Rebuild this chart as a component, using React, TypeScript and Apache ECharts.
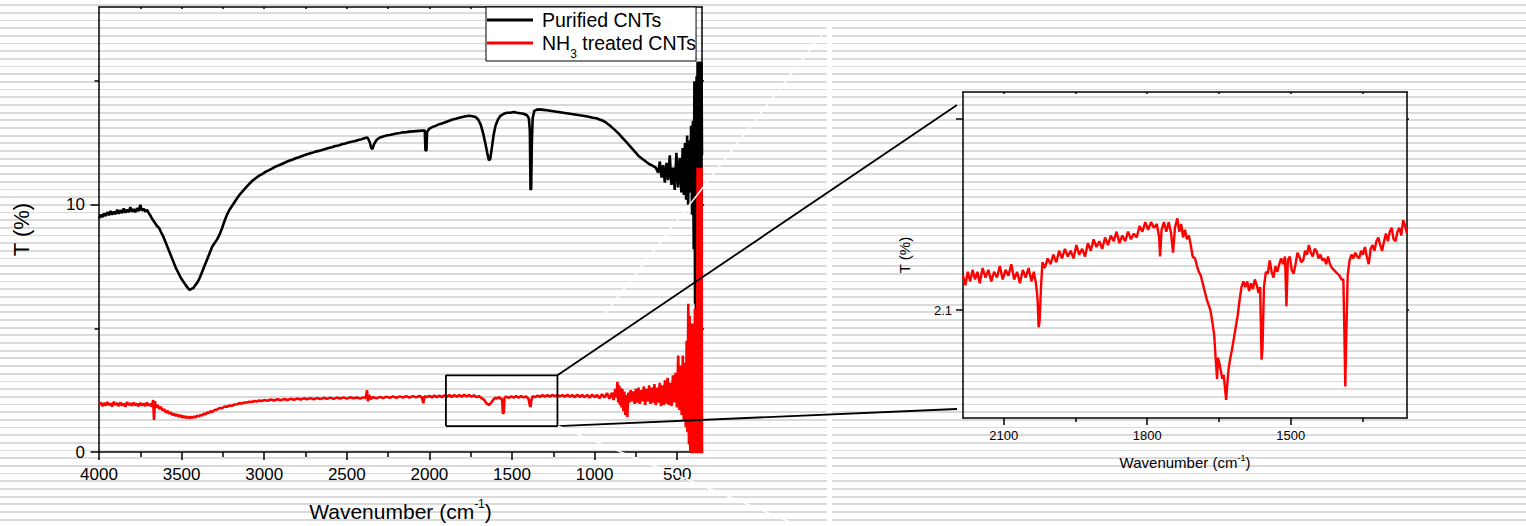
import React, { useEffect, useRef } from 'react';
import * as echarts from 'echarts';

// ---------- data ----------
// Purified CNTs : [wavenumber (cm-1), T (%)]
const purified: number[][] = [
  [4000, 9.45], [3990, 9.6], [3980, 9.5], [3970, 9.65], [3960, 9.55], [3950, 9.7], [3940, 9.58], [3930, 9.75],
  [3920, 9.6], [3910, 9.72], [3900, 9.62], [3890, 9.8], [3880, 9.64], [3870, 9.78], [3860, 9.66], [3850, 9.85],
  [3840, 9.68], [3830, 9.8], [3820, 9.7], [3810, 9.9], [3800, 9.72], [3790, 9.82], [3780, 9.7], [3770, 9.86],
  [3760, 9.74], [3750, 10.0], [3740, 9.76], [3730, 9.84], [3720, 9.72], [3710, 9.8], [3700, 9.68], [3690, 9.58],
  [3680, 9.45], [3665, 9.3], [3650, 9.15], [3635, 9.05], [3625, 8.9], [3610, 8.7], [3595, 8.45], [3580, 8.2],
  [3565, 7.95], [3550, 7.7], [3535, 7.45], [3520, 7.25], [3505, 7.05], [3490, 6.9], [3475, 6.75], [3460, 6.62],
  [3450, 6.55], [3440, 6.6], [3430, 6.62], [3420, 6.72], [3405, 6.85], [3390, 7.05], [3375, 7.3], [3360, 7.55],
  [3345, 7.8], [3330, 8.05], [3315, 8.3], [3300, 8.45], [3285, 8.6], [3270, 8.8], [3255, 9.05], [3240, 9.35],
  [3225, 9.6], [3210, 9.8], [3195, 9.95], [3180, 10.1], [3165, 10.25], [3150, 10.4], [3130, 10.55], [3110, 10.7],
  [3090, 10.85], [3070, 10.98], [3050, 11.08], [3030, 11.18], [3010, 11.25], [2990, 11.34], [2970, 11.4],
  [2950, 11.47], [2930, 11.55], [2910, 11.6], [2890, 11.66], [2870, 11.72], [2850, 11.78], [2830, 11.82],
  [2810, 11.88], [2790, 11.92], [2770, 11.97], [2750, 12.02], [2730, 12.06], [2710, 12.1], [2690, 12.15],
  [2670, 12.18], [2650, 12.22], [2630, 12.26], [2610, 12.3], [2590, 12.33], [2570, 12.38], [2550, 12.4],
  [2530, 12.45], [2510, 12.48], [2490, 12.52], [2470, 12.55], [2450, 12.58], [2430, 12.62], [2410, 12.65],
  [2390, 12.7], [2375, 12.72], [2362, 12.55], [2352, 12.3], [2345, 12.25], [2335, 12.45], [2320, 12.62],
  [2300, 12.72], [2280, 12.76], [2260, 12.8], [2240, 12.82], [2220, 12.85], [2200, 12.88], [2180, 12.9],
  [2160, 12.93], [2140, 12.94], [2120, 12.96], [2100, 12.97], [2080, 12.98], [2060, 12.99], [2040, 13.0],
  [2028, 13.0], [2024, 12.2], [2018, 12.2], [2014, 12.95], [2000, 13.08], [1980, 13.15], [1960, 13.2],
  [1940, 13.26], [1920, 13.3], [1900, 13.35], [1880, 13.4], [1860, 13.45], [1840, 13.48], [1820, 13.52],
  [1800, 13.55], [1780, 13.58], [1760, 13.6], [1740, 13.58], [1720, 13.55], [1705, 13.45], [1690, 13.25],
  [1675, 12.9], [1662, 12.5], [1650, 12.1], [1640, 11.8], [1632, 11.85], [1622, 12.3], [1612, 12.8],
  [1600, 13.2], [1585, 13.45], [1570, 13.6], [1550, 13.68], [1530, 13.72], [1510, 13.72], [1490, 13.75],
  [1470, 13.72], [1450, 13.7], [1430, 13.68], [1410, 13.62], [1398, 13.5], [1392, 13.0], [1388, 10.6],
  [1384, 10.65], [1380, 12.5], [1375, 13.5], [1365, 13.8], [1350, 13.85], [1330, 13.86], [1310, 13.84],
  [1290, 13.82], [1270, 13.8], [1250, 13.78], [1230, 13.76], [1210, 13.74], [1190, 13.72], [1170, 13.7],
  [1150, 13.68], [1130, 13.66], [1110, 13.64], [1090, 13.62], [1070, 13.6], [1050, 13.58], [1030, 13.55],
  [1010, 13.52], [990, 13.5], [970, 13.45], [950, 13.4], [930, 13.32], [910, 13.22], [890, 13.1],
  [870, 12.98], [850, 12.85], [830, 12.7], [810, 12.55], [790, 12.4], [770, 12.25], [750, 12.1],
  [730, 11.95], [710, 11.85], [690, 11.75], [670, 11.65], [650, 11.58], [630, 11.5], [615, 11.3],
  [605, 11.75], [595, 11.1], [585, 11.6], [575, 10.9], [565, 11.7], [555, 11.0], [545, 12.0], [535, 10.8],
  [525, 11.5], [515, 10.6], [505, 12.1], [495, 10.7], [485, 11.9], [475, 10.5], [467, 12.3], [460, 10.4],
  [453, 12.5], [446, 10.2], [440, 12.8], [434, 10.0], [428, 12.6], [422, 10.5], [416, 13.2], [410, 9.6],
  [405, 13.4], [400, 8.2], [396, 15.0], [392, 6.0], [389, 14.8], [386, 5.0], [383, 15.2], [380, 6.5],
  [377, 15.8], [374, 7.0], [371, 15.8], [368, 8.0], [365, 15.8], [362, 9.0], [359, 15.8], [356, 10.0],
  [353, 15.8], [350, 12.0],
];

// NH3 treated CNTs : [wavenumber (cm-1), T (%)]
const nh3Treated: number[][] = [
  [4000, 1.92], [3990, 2.0], [3980, 1.86], [3970, 1.98], [3960, 1.88], [3950, 2.02], [3940, 1.9], [3930, 1.97],
  [3920, 1.85], [3910, 2.03], [3900, 1.9], [3890, 1.98], [3880, 1.86], [3870, 2.0], [3860, 1.88], [3850, 1.96],
  [3840, 1.84], [3830, 2.02], [3820, 1.9], [3810, 1.97], [3800, 1.87], [3790, 2.0], [3780, 1.89], [3770, 1.95],
  [3760, 1.85], [3750, 1.99], [3740, 1.88], [3730, 1.96], [3720, 1.86], [3710, 2.0], [3700, 1.88], [3690, 1.94],
  [3680, 1.84], [3672, 2.1], [3667, 1.3], [3662, 2.05], [3655, 1.8], [3645, 1.9], [3635, 1.75], [3625, 1.82],
  [3615, 1.68], [3605, 1.72], [3595, 1.6], [3585, 1.66], [3575, 1.55], [3565, 1.6], [3555, 1.5], [3545, 1.55],
  [3535, 1.46], [3525, 1.52], [3515, 1.43], [3505, 1.48], [3495, 1.4], [3485, 1.45], [3475, 1.38], [3465, 1.43],
  [3455, 1.37], [3445, 1.42], [3435, 1.38], [3425, 1.44], [3415, 1.4], [3405, 1.47], [3395, 1.44], [3385, 1.5],
  [3375, 1.48], [3365, 1.55], [3355, 1.52], [3345, 1.6], [3335, 1.58], [3325, 1.65], [3315, 1.62], [3300, 1.7],
  [3285, 1.72], [3270, 1.78], [3255, 1.77], [3240, 1.84], [3225, 1.83], [3210, 1.88], [3195, 1.87], [3180, 1.92],
  [3165, 1.93], [3150, 1.97], [3135, 1.96], [3120, 2.0], [3105, 2.0], [3090, 2.03], [3075, 2.02], [3060, 2.06],
  [3045, 2.04], [3030, 2.08], [3015, 2.06], [3000, 2.1], [2980, 2.07], [2960, 2.12], [2940, 2.08], [2920, 2.13],
  [2900, 2.09], [2880, 2.14], [2860, 2.1], [2840, 2.15], [2820, 2.11], [2800, 2.16], [2780, 2.12], [2760, 2.17],
  [2740, 2.13], [2720, 2.18], [2700, 2.13], [2680, 2.18], [2660, 2.14], [2640, 2.19], [2620, 2.15], [2600, 2.2],
  [2580, 2.15], [2560, 2.2], [2540, 2.16], [2520, 2.21], [2500, 2.16], [2480, 2.21], [2460, 2.17], [2440, 2.2],
  [2420, 2.16], [2400, 2.21], [2385, 2.18], [2378, 2.5], [2372, 2.05], [2365, 2.3], [2355, 2.15], [2340, 2.22],
  [2320, 2.17], [2300, 2.23], [2280, 2.18], [2260, 2.24], [2240, 2.19], [2220, 2.25], [2200, 2.19], [2180, 2.25],
  [2160, 2.2], [2140, 2.26], [2120, 2.2], [2100, 2.26], [2080, 2.21], [2060, 2.27], [2045, 2.2], [2037, 1.97],
  [2030, 2.26], [2015, 2.22], [2000, 2.27], [1985, 2.21], [1970, 2.28], [1955, 2.22], [1940, 2.28], [1925, 2.22],
  [1910, 2.29], [1895, 2.23], [1880, 2.3], [1865, 2.23], [1850, 2.3], [1835, 2.24], [1820, 2.3], [1805, 2.24],
  [1790, 2.31], [1775, 2.25], [1760, 2.3], [1745, 2.24], [1730, 2.29], [1715, 2.22], [1700, 2.26], [1685, 2.18],
  [1670, 2.12], [1660, 2.02], [1650, 1.95], [1640, 1.9], [1630, 1.96], [1620, 2.05], [1610, 2.14], [1600, 2.2],
  [1590, 2.16], [1580, 2.22], [1570, 2.17], [1560, 2.12], [1555, 1.55], [1550, 1.6], [1545, 2.2], [1535, 2.24],
  [1520, 2.19], [1505, 2.25], [1490, 2.2], [1475, 2.26], [1460, 2.2], [1445, 2.26], [1430, 2.21], [1415, 2.25],
  [1400, 2.15], [1393, 1.9], [1388, 1.82], [1383, 2.1], [1375, 2.26], [1360, 2.22], [1345, 2.28], [1330, 2.23],
  [1315, 2.3], [1300, 2.24], [1285, 2.3], [1270, 2.24], [1255, 2.31], [1240, 2.25], [1225, 2.31], [1210, 2.25],
  [1195, 2.3], [1180, 2.24], [1165, 2.31], [1150, 2.24], [1135, 2.3], [1120, 2.22], [1105, 2.32], [1090, 2.23],
  [1075, 2.3], [1060, 2.22], [1045, 2.31], [1030, 2.2], [1015, 2.32], [1000, 2.22], [985, 2.3], [970, 2.18],
  [955, 2.34], [940, 2.2], [925, 2.38], [910, 2.16], [895, 2.4], [885, 2.1], [875, 2.55], [868, 2.2],
  [862, 2.84], [857, 2.0], [852, 2.7], [847, 1.9], [842, 2.6], [837, 1.8], [832, 2.55], [826, 1.65],
  [820, 2.45], [814, 1.5], [808, 2.3], [802, 1.42], [796, 2.4], [790, 2.0], [782, 2.5], [774, 2.05],
  [766, 2.45], [758, 1.95], [750, 2.55], [742, 2.0], [734, 2.6], [726, 1.95], [718, 2.5], [710, 2.05],
  [702, 2.65], [694, 1.9], [686, 2.55], [678, 2.05], [670, 2.7], [662, 1.95], [654, 2.6], [646, 2.0],
  [638, 2.75], [630, 1.9], [622, 2.6], [614, 2.0], [606, 2.8], [598, 1.85], [590, 2.7], [582, 1.9],
  [574, 2.9], [566, 1.95], [558, 3.0], [550, 1.9], [542, 2.8], [534, 1.85], [526, 3.1], [518, 2.0],
  [510, 3.2], [502, 1.8], [494, 3.9], [487, 1.7], [480, 3.5], [473, 1.5], [466, 3.9], [460, 1.3],
  [454, 3.6], [448, 1.0], [443, 4.5], [438, 0.8], [433, 6.0], [429, 0.3], [425, 5.5], [421, 0],
  [417, 4.8], [413, -1], [409, 5.2], [405, -1], [401, 4.0], [397, -1], [393, 5.8], [389, -1],
  [385, 4.5], [381, -1], [377, 11.5], [374, -1], [371, 11.3], [368, -1], [365, 11.5], [362, -1],
  [359, 11.2], [356, -1], [353, 11.5], [350, -1],
];

// Inset: NH3 treated CNTs, 2185-1257 cm-1
const nh3Inset: number[][] = [
  [2185, 2.118], [2180, 2.113], [2175, 2.12], [2170, 2.115], [2165, 2.121], [2160, 2.116], [2155, 2.12],
  [2150, 2.114], [2144, 2.122], [2138, 2.117], [2132, 2.121], [2126, 2.115], [2120, 2.12], [2114, 2.117],
  [2108, 2.123], [2102, 2.116], [2096, 2.121], [2090, 2.118], [2084, 2.124], [2078, 2.116], [2072, 2.12],
  [2066, 2.114], [2060, 2.121], [2054, 2.117], [2048, 2.122], [2042, 2.115], [2037, 2.12], [2032, 2.113],
  [2029, 2.105], [2027, 2.091], [2025, 2.094], [2022, 2.112], [2019, 2.125], [2014, 2.122], [2008, 2.127],
  [2002, 2.124], [1996, 2.129], [1990, 2.125], [1984, 2.131], [1978, 2.127], [1972, 2.132], [1966, 2.128],
  [1960, 2.131], [1954, 2.127], [1948, 2.134], [1942, 2.129], [1936, 2.132], [1930, 2.128], [1924, 2.135],
  [1918, 2.131], [1912, 2.137], [1906, 2.133], [1900, 2.136], [1894, 2.132], [1888, 2.138], [1882, 2.134],
  [1876, 2.139], [1870, 2.136], [1864, 2.141], [1858, 2.135], [1852, 2.139], [1846, 2.136], [1840, 2.141],
  [1834, 2.137], [1828, 2.14], [1822, 2.138], [1816, 2.144], [1810, 2.141], [1804, 2.146], [1798, 2.142],
  [1792, 2.146], [1786, 2.143], [1780, 2.145], [1775, 2.138], [1773, 2.128], [1770, 2.142], [1765, 2.146],
  [1760, 2.141], [1755, 2.146], [1750, 2.14], [1746, 2.13], [1742, 2.143], [1737, 2.148], [1733, 2.141],
  [1729, 2.145], [1725, 2.138], [1721, 2.142], [1717, 2.137], [1713, 2.139], [1709, 2.134], [1705, 2.128],
  [1700, 2.127], [1696, 2.123], [1692, 2.12], [1688, 2.118], [1684, 2.114], [1680, 2.11], [1676, 2.106],
  [1672, 2.103], [1668, 2.1], [1664, 2.094], [1660, 2.087], [1657, 2.075], [1654, 2.064], [1652, 2.075],
  [1649, 2.072], [1646, 2.068], [1643, 2.064], [1640, 2.066], [1637, 2.058], [1635, 2.053], [1633, 2.06],
  [1630, 2.069], [1627, 2.074], [1623, 2.079], [1619, 2.085], [1615, 2.091], [1611, 2.097], [1607, 2.105],
  [1603, 2.112], [1599, 2.115], [1595, 2.112], [1591, 2.115], [1587, 2.11], [1583, 2.114], [1579, 2.111],
  [1575, 2.116], [1571, 2.113], [1567, 2.109], [1564, 2.112], [1561, 2.074], [1559, 2.08], [1556, 2.112],
  [1552, 2.12], [1548, 2.119], [1544, 2.126], [1540, 2.12], [1536, 2.117], [1532, 2.123], [1528, 2.12],
  [1524, 2.124], [1520, 2.127], [1516, 2.124], [1512, 2.128], [1509, 2.102], [1506, 2.126], [1502, 2.128],
  [1498, 2.121], [1494, 2.119], [1490, 2.124], [1486, 2.13], [1482, 2.128], [1478, 2.125], [1474, 2.126],
  [1470, 2.131], [1466, 2.129], [1462, 2.134], [1458, 2.13], [1454, 2.128], [1450, 2.132], [1446, 2.131],
  [1442, 2.127], [1438, 2.129], [1434, 2.126], [1430, 2.127], [1426, 2.124], [1422, 2.128], [1418, 2.124],
  [1414, 2.122], [1410, 2.121], [1406, 2.12], [1402, 2.119], [1398, 2.118], [1394, 2.116], [1390, 2.116],
  [1388, 2.09], [1386, 2.06], [1384, 2.085], [1381, 2.118], [1377, 2.126], [1373, 2.129], [1369, 2.127],
  [1365, 2.13], [1361, 2.128], [1357, 2.127], [1353, 2.131], [1349, 2.129], [1345, 2.133], [1341, 2.128],
  [1337, 2.124], [1333, 2.132], [1329, 2.134], [1325, 2.131], [1321, 2.136], [1317, 2.138], [1313, 2.134],
  [1309, 2.131], [1305, 2.136], [1301, 2.14], [1297, 2.136], [1293, 2.141], [1289, 2.143], [1285, 2.137],
  [1281, 2.136], [1277, 2.141], [1273, 2.143], [1269, 2.139], [1265, 2.147], [1261, 2.144], [1257, 2.14],
];

// zoom box drawn on the main plot: [wavenumber, T]
const zoomBox: number[][] = [[1900, 1.05], [1225, 1.05], [1225, 3.1], [1900, 3.1], [1900, 1.05]];

// tick values
const mainXMajor = [4000, 3500, 3000, 2500, 2000, 1500, 1000, 500];
const mainXMinor = [3750, 3250, 2750, 2250, 1750, 1250, 750];
const mainXTop = [3750, 3500, 3250, 3000, 2750, 2500, 2250, 2000, 1750, 1500, 1250, 1000, 750, 500];
const mainYMajor = [0, 10];
const mainYMinor = [5, 15];
const mainYRight = [5, 10, 15];
const insetXMajor = [2100, 1800, 1500];
const insetXMinor = [1950, 1650, 1350];
const insetYTicks = [2.1, 2.2];
const insetYLabels = [2.1];

const FONT = "'Liberation Sans', Arial, Helvetica, sans-serif";
const BLACK = '#000000';
const RED = '#ff0000';

const MAIN = { left: 99, top: 7, width: 603, height: 445 };
const INSET = { left: 963, top: 92, width: 444, height: 326 };

const plain = (v: number) => String(v);

function axisDef(o: any) {
  return {
    type: 'value',
    splitLine: { show: false },
    axisLine: { show: false, onZero: false, lineStyle: { color: BLACK, width: 1.5 } },
    axisTick: { show: false },
    axisLabel: { show: false },
    ...o,
  };
}

export default function App() {
  const ref = useRef<HTMLDivElement>(null);

  useEffect(() => {
    if (!ref.current) return;
    const chart = echarts.init(ref.current, null, { renderer: 'svg' });

    const mainX = { gridIndex: 0, inverse: true, min: 350, max: 4000 };
    const mainY = { gridIndex: 0, min: 0, max: 18 };
    const insetX = { gridIndex: 1, inverse: true, min: 1257, max: 2185 };
    const insetY = { gridIndex: 1, min: 2.0435, max: 2.2141 };
    const tickLine = { color: BLACK, width: 1.5 };
    const labelStyle = { color: BLACK, fontFamily: FONT };

    const option: any = {
      animation: false,
      backgroundColor: 'transparent',
      textStyle: { fontFamily: FONT },
      grid: [
        { ...MAIN, containLabel: false, outerBoundsMode: 'none' },
        { ...INSET, containLabel: false, outerBoundsMode: 'none' },
      ],
      legend: {
        show: true,
        orient: 'vertical',
        left: 486,
        top: 7,
        backgroundColor: '#ffffff',
        borderColor: BLACK,
        borderWidth: 1,
        borderRadius: 0,
        padding: [2, 0, 1, 1],
        itemWidth: 46,
        itemHeight: 3,
        itemGap: 1,
        icon: 'rect',
        selectedMode: false,
        data: ['Purified CNTs', 'NH3 treated CNTs'],
        formatter: (name: string) => (name === 'NH3 treated CNTs' ? 'NH{s|3} treated CNTs' : name),
        textStyle: {
          color: BLACK,
          fontFamily: FONT,
          fontSize: 19.5,
          lineHeight: 22,
          padding: [0, 0, 0, 4],
          rich: {
            s: { fontSize: 12, lineHeight: 12, fontFamily: FONT, color: BLACK, verticalAlign: 'top', padding: [16, 0, 0, 0] },
          },
        },
      },
      xAxis: [
        // 0: main bottom, major ticks + labels + title
        axisDef({
          ...mainX,
          position: 'bottom',
          axisLine: { show: true, onZero: false, lineStyle: tickLine },
          axisTick: { show: true, inside: false, length: 8, customValues: mainXMajor, lineStyle: tickLine },
          axisLabel: { show: true, customValues: mainXMajor, formatter: plain, margin: 14, fontSize: 17, ...labelStyle },
          name: 'Wavenumber (cm{sup|-1})',
          nameLocation: 'middle',
          nameGap: 46,
          nameTextStyle: {
            ...labelStyle,
            fontSize: 21,
            lineHeight: 26,
            rich: { sup: { fontSize: 12, lineHeight: 14, verticalAlign: 'top', ...labelStyle } },
          },
        }),
        // 1: main bottom minor ticks
        axisDef({
          ...mainX,
          position: 'bottom',
          axisTick: { show: true, inside: false, length: 5, customValues: mainXMinor, lineStyle: tickLine },
        }),
        // 2: main top border
        axisDef({
          ...mainX,
          position: 'top',
          axisLine: { show: true, onZero: false, lineStyle: tickLine },
          axisTick: { show: true, inside: true, length: 2, customValues: mainXTop, lineStyle: tickLine },
        }),
        // 3: inset bottom, major ticks + labels + title
        axisDef({
          ...insetX,
          position: 'bottom',
          axisLine: { show: true, onZero: false, lineStyle: tickLine },
          axisTick: { show: true, inside: false, length: 7, customValues: insetXMajor, lineStyle: tickLine },
          axisLabel: { show: true, customValues: insetXMajor, formatter: plain, margin: 11, fontSize: 13, ...labelStyle },
          name: 'Wavenumber (cm{sup|-1})',
          nameLocation: 'middle',
          nameGap: 35,
          nameTextStyle: {
            ...labelStyle,
            fontSize: 15,
            lineHeight: 18,
            rich: { sup: { fontSize: 9, lineHeight: 10, verticalAlign: 'top', ...labelStyle } },
          },
        }),
        // 4: inset minor ticks
        axisDef({
          ...insetX,
          position: 'bottom',
          axisTick: { show: true, inside: false, length: 4, customValues: insetXMinor, lineStyle: tickLine },
        }),
        // 5: inset top border
        axisDef({
          ...insetX,
          position: 'top',
          axisLine: { show: true, onZero: false, lineStyle: tickLine },
          axisTick: { show: true, inside: true, length: 2, customValues: [...insetXMajor, ...insetXMinor], lineStyle: tickLine },
        }),
      ],
      yAxis: [
        // 0: main left, major + labels + title
        axisDef({
          ...mainY,
          position: 'left',
          axisLine: { show: true, onZero: false, lineStyle: tickLine },
          axisTick: { show: true, inside: false, length: 8.5, customValues: mainYMajor, lineStyle: tickLine },
          axisLabel: { show: true, customValues: mainYMajor, formatter: plain, margin: 14, fontSize: 17, ...labelStyle },
          name: 'T (%)',
          nameLocation: 'middle',
          nameGap: 67,
          nameTextStyle: { ...labelStyle, fontSize: 22 },
        }),
        // 1: main left minor
        axisDef({
          ...mainY,
          position: 'left',
          axisTick: { show: true, inside: false, length: 4.5, customValues: mainYMinor, lineStyle: tickLine },
        }),
        // 2: main right border
        axisDef({
          ...mainY,
          position: 'right',
          axisLine: { show: true, onZero: false, lineStyle: tickLine },
          axisTick: { show: true, inside: false, length: 2, customValues: mainYRight, lineStyle: tickLine },
        }),
        // 3: inset left
        axisDef({
          ...insetY,
          position: 'left',
          axisLine: { show: true, onZero: false, lineStyle: tickLine },
          axisTick: { show: true, inside: false, length: 7, customValues: insetYTicks, lineStyle: tickLine },
          axisLabel: { show: true, customValues: insetYLabels, formatter: plain, margin: 11, fontSize: 13, ...labelStyle },
          name: 'T (%)',
          nameLocation: 'middle',
          nameGap: 51,
          nameTextStyle: { ...labelStyle, fontSize: 15 },
        }),
        // 4: inset right border
        axisDef({
          ...insetY,
          position: 'right',
          axisLine: { show: true, onZero: false, lineStyle: tickLine },
          axisTick: { show: true, inside: false, length: 2, customValues: insetYTicks, lineStyle: tickLine },
        }),
      ],
      series: [
        {
          name: 'Purified CNTs',
          type: 'line',
          xAxisIndex: 0,
          yAxisIndex: 0,
          data: purified,
          showSymbol: false,
          symbol: 'none',
          clip: true,
          color: BLACK,
          lineStyle: { color: BLACK, width: 2.6 },
          z: 2,
        },
        {
          name: 'NH3 treated CNTs',
          type: 'line',
          xAxisIndex: 0,
          yAxisIndex: 0,
          data: nh3Treated,
          showSymbol: false,
          symbol: 'none',
          clip: true,
          color: RED,
          lineStyle: { color: RED, width: 2.6 },
          z: 3,
        },
        {
          name: 'zoom box',
          type: 'line',
          xAxisIndex: 0,
          yAxisIndex: 0,
          data: zoomBox,
          showSymbol: false,
          symbol: 'none',
          color: BLACK,
          lineStyle: { color: BLACK, width: 1.8 },
          z: 4,
          silent: true,
        },
        {
          name: 'NH3 inset',
          type: 'line',
          xAxisIndex: 3,
          yAxisIndex: 3,
          data: nh3Inset,
          showSymbol: false,
          symbol: 'none',
          clip: true,
          color: RED,
          lineStyle: { color: RED, width: 2.4 },
          z: 3,
        },
      ],
    };

    chart.setOption(option);

    // connecting lines from the zoom box to the inset
    const topCorner = chart.convertToPixel({ xAxisIndex: 0, yAxisIndex: 0 }, [zoomBox[2][0], zoomBox[2][1]]) as number[];
    const botCorner = chart.convertToPixel({ xAxisIndex: 0, yAxisIndex: 0 }, [zoomBox[1][0], zoomBox[1][1]]) as number[];
    const endX = INSET.left - 6;

    chart.setOption({
      graphic: [
        // white vertical gap in the striped background
        { type: 'rect', shape: { x: 827, y: 25, width: 5, height: 501 }, style: { fill: '#ffffff' }, z: 1, silent: true },
        {
          type: 'line',
          shape: { x1: topCorner[0], y1: topCorner[1], x2: endX, y2: INSET.top + 13 },
          style: { stroke: BLACK, lineWidth: 1.8 },
          z: 10,
          silent: true,
        },
        {
          type: 'line',
          shape: { x1: botCorner[0], y1: botCorner[1], x2: endX, y2: INSET.top + INSET.height - 9 },
          style: { stroke: BLACK, lineWidth: 1.8 },
          z: 10,
          silent: true,
        },
        // white streaks over the picture
        { type: 'line', shape: { x1: 827, y1: 28, x2: 603, y2: 316 }, style: { stroke: '#ffffff', lineWidth: 1.5 }, z: 20, silent: true },
        { type: 'line', shape: { x1: 558, y1: 426, x2: 800, y2: 526 }, style: { stroke: '#ffffff', lineWidth: 1.5 }, z: 20, silent: true },
      ],
    });

    return () => chart.dispose();
  }, []);

  return (
    <div
      ref={ref}
      style={{
        position: 'absolute',
        left: 0,
        top: 0,
        width: 1526,
        height: 526,
        background:
          'repeating-linear-gradient(180deg, #ffffff 0px, #ffffff 4.2px, #dadada 4.2px, #dadada 6px, #ffffff 6px, #ffffff 7.68px)',
      }}
    />
  );
}
